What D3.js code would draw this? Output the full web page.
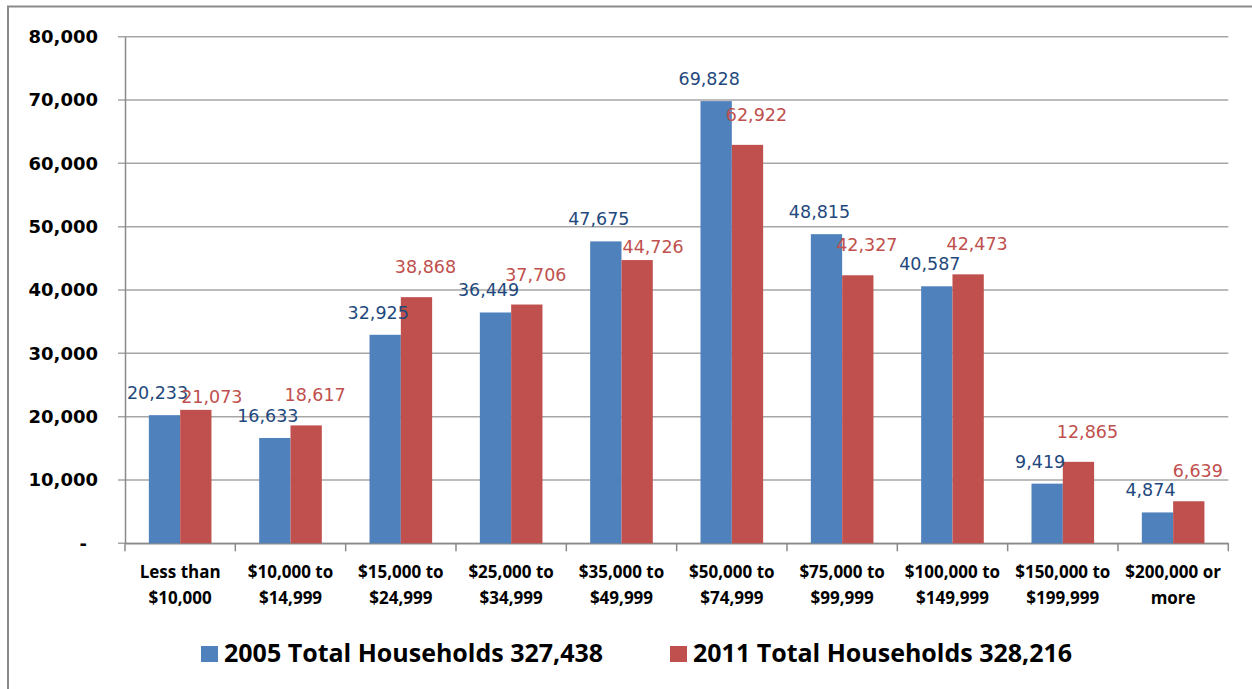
<!DOCTYPE html>
<html>
<head>
<meta charset="utf-8">
<script src="https://cdn.jsdelivr.net/npm/d3@7"></script>
<style>
  body { margin: 0; background: #fff; }
  svg { display: block; }
</style>
</head>
<body>
<div id="grafica"></div>
<script>
// datos
const categories = [
    'Less than\n$10,000',
    '$10,000 to\n$14,999',
    '$15,000 to\n$24,999',
    '$25,000 to\n$34,999',
    '$35,000 to\n$49,999',
    '$50,000 to\n$74,999',
    '$75,000 to\n$99,999',
    '$100,000 to\n$149,999',
    '$150,000 to\n$199,999',
    '$200,000 or\nmore'
]
const households2005 = [20233, 16633, 32925, 36449, 47675, 69828, 48815, 40587, 9419, 4874]
const households2011 = [21073, 18617, 38868, 37706, 44726, 62922, 42327, 42473, 12865, 6639]
const seriesNames = ['2005 Total Households 327,438', '2011 Total Households 328,216']
const yTicks = [0, 10000, 20000, 30000, 40000, 50000, 60000, 70000, 80000]

const colors = ['#4F81BD', '#C0504D']
const labelColors = ['#1F497D', '#C0504D']

const svgWidth = 1252
const svgHeight = 689
const margin = { top: 36.7, right: 23.7, bottom: 145.7, left: 125 }
const chartWidth = svgWidth - margin.left - margin.right
const chartHeight = svgHeight - margin.top - margin.bottom

const rows = categories.map((c, i) => ({ cat: c, vals: [households2005[i], households2011[i]] }))

const scaleX = d3.scaleBand()
    .domain(categories)
    .range([0, chartWidth])
    .padding(0)

const scaleSub = d3.scaleBand()
    .domain([0, 1])
    .range([0, scaleX.bandwidth()])
    .paddingInner(0)
    .paddingOuter(0.762)

const scaleY = d3.scaleLinear()
    .domain([0, 80000])
    .range([chartHeight, 0])

const svg = d3.select('#grafica')
    .append('svg')
    .attr('width', svgWidth)
    .attr('height', svgHeight)

// marco
svg.append('rect')
    .attr('x', 8)
    .attr('y', 6.5)
    .attr('width', svgWidth + 20)
    .attr('height', svgHeight + 20)
    .style('fill', 'none')
    .style('stroke', '#8a8a8a')
    .style('stroke-width', 2)

const g = svg.append('g')
    .attr('transform', `translate(${margin.left},${margin.top})`)

// grid
g.selectAll('.grid')
    .data(yTicks)
    .enter()
    .append('line')
    .attr('class', 'grid')
    .attr('x1', -7)
    .attr('x2', chartWidth)
    .attr('y1', d => scaleY(d))
    .attr('y2', d => scaleY(d))
    .style('stroke', '#a6a6a6')
    .style('stroke-width', 1.5)

// ejeY
const axisY = d3.axisLeft(scaleY)
    .tickValues(yTicks)
    .tickSize(0)
    .tickPadding(27)
    .tickFormat(d => d === 0 ? '-' : d3.format(',')(d))

const yAxisG = g.append('g').call(axisY)
yAxisG.select('.domain').style('stroke', '#8a8a8a').style('stroke-width', 1.5)
yAxisG.selectAll('text')
    .style('font-family', 'DejaVu Sans')
    .style('font-weight', 'bold')
    .style('font-size', '18px')
    .style('fill', '#000')
    .attr('dx', d => d === 0 ? -11 : 0)

// ejeX
const axisX = d3.axisBottom(scaleX).tickSize(0).tickFormat('')
const xAxisG = g.append('g')
    .attr('transform', `translate(0,${chartHeight})`)
    .call(axisX)
xAxisG.select('.domain').style('stroke', '#8a8a8a').style('stroke-width', 1.5)

const boundaries = categories.map(c => scaleX(c)).concat([chartWidth])
xAxisG.selectAll('.sep')
    .data(boundaries)
    .enter()
    .append('line')
    .attr('class', 'sep')
    .attr('x1', d => d)
    .attr('x2', d => d)
    .attr('y1', 0)
    .attr('y2', 8)
    .style('stroke', '#8a8a8a')
    .style('stroke-width', 1.5)

const catLabels = xAxisG.selectAll('.cat')
    .data(categories)
    .enter()
    .append('text')
    .attr('class', 'cat')
    .attr('x', d => scaleX(d) + scaleX.bandwidth() / 2)
    .attr('y', 35)
    .attr('text-anchor', 'middle')
    .style('font-family', 'Open Sans')
    .style('font-weight', 'bold')
    .style('font-size', '17px')
    .style('fill', '#000')

catLabels.selectAll('tspan')
    .data(d => d.split('\n'))
    .enter()
    .append('tspan')
    .attr('x', function () { return d3.select(this.parentNode).attr('x') })
    .attr('dy', (d, i) => i === 0 ? 0 : 26)
    .text(d => d)

// barras
const groups = g.selectAll('.group')
    .data(rows)
    .enter()
    .append('g')
    .attr('class', 'group')
    .attr('transform', d => `translate(${scaleX(d.cat)},0)`)

groups.selectAll('.bar')
    .data(d => d.vals)
    .enter()
    .append('rect')
    .attr('class', 'bar')
    .attr('x', (d, i) => scaleSub(i))
    .attr('y', d => scaleY(d))
    .attr('width', scaleSub.bandwidth())
    .attr('height', d => chartHeight - scaleY(d))
    .style('fill', (d, i) => colors[i])

// etiquetas
const lblX = i => scaleSub(i) + scaleSub.bandwidth() / 2 + (i === 0 ? -7 : 9)
const lblY = (d, i) => scaleY(d) - (i === 0 ? 16 : 24)

groups.selectAll('.lbl')
    .data(d => d.vals)
    .enter()
    .append('text')
    .attr('class', 'lbl')
    .attr('x', (d, i) => lblX(i))
    .attr('y', (d, i) => lblY(d, i))
    .attr('text-anchor', 'middle')
    .style('font-family', 'DejaVu Sans')
    .style('font-size', '17.5px')
    .style('fill', (d, i) => labelColors[i])
    .text(d => d3.format(',')(d))

// si las etiquetas chocan, bajar la roja junto a su barra
groups.each(function (d) {
    const lbls = d3.select(this).selectAll('.lbl').nodes()
    const wa = lbls[0].getComputedTextLength()
    const wb = lbls[1].getComputedTextLength()
    const xa = lblX(0), xb = lblX(1)
    const ya = lblY(d.vals[0], 0), yb = lblY(d.vals[1], 1)
    const hit = Math.abs(xa - xb) < (wa + wb) / 2 && Math.abs(ya - yb) < 14
    if (hit) {
        d3.select(lbls[1])
            .attr('x', scaleSub(1) + scaleSub.bandwidth() / 2 + 16)
            .attr('y', scaleY(d.vals[1]) - 7)
    }
})

// leyenda
const legendX = [201, 670]
const legend = svg.selectAll('.legend')
    .data(seriesNames)
    .enter()
    .append('g')
    .attr('class', 'legend')
    .attr('transform', (d, i) => `translate(${legendX[i]},646)`)

legend.append('rect')
    .attr('width', 17)
    .attr('height', 16)
    .style('fill', (d, i) => colors[i])

legend.append('text')
    .attr('x', 23)
    .attr('y', 16)
    .style('font-family', 'Open Sans')
    .style('font-weight', 'bold')
    .style('font-size', '25px')
    .style('fill', '#000')
    .text(d => d)
</script>
</body>
</html>
